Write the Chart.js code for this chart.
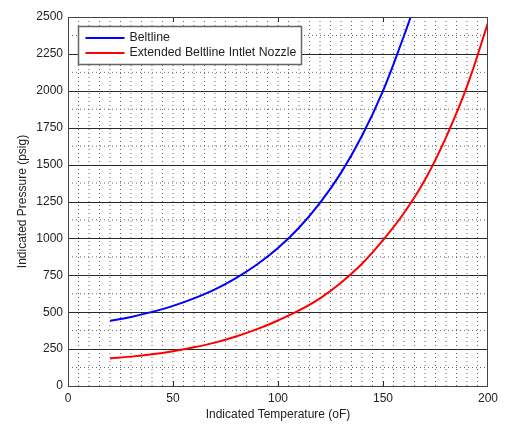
<!DOCTYPE html>
<html>
<head>
<meta charset="utf-8">
<script src="https://cdn.jsdelivr.net/npm/chart.js@4/dist/chart.umd.min.js"></script>
<style>
    html, body { margin: 0; padding: 0; background: #fff; }
    #wrap { width: 509px; height: 424px; }
</style>
</head>
<body>
<div id="wrap"><canvas id="pt-chart" width="509" height="424"></canvas></div>
<script>
// P-T limit curves, temperature (oF) vs pressure (psig)
const beltlineTemp = [20, 30, 40, 50, 60, 70, 80, 90, 100, 110, 120, 130, 140, 150, 160, 163.2];
const beltlinePressure = [442, 468, 502, 543, 594, 655, 731, 823, 935, 1072, 1240, 1444, 1695, 2000, 2373, 2500];

const nozzleTemp = [20, 30, 40, 50, 60, 70, 80, 90, 100, 110, 120, 130, 140, 150, 160, 170, 180, 190, 200];
const nozzlePressure = [187, 199, 215, 236, 262, 294, 335, 385, 444, 512, 594, 700, 828, 988, 1172, 1397, 1685, 2030, 2460];

const seriesLabels = ["Beltline", "Extended Beltline Intlet Nozzle"];
const seriesColors = ["#0000ff", "#ff0000"];

const xTicks = [0, 50, 100, 150, 200];
const yTicks = [0, 250, 500, 750, 1000, 1250, 1500, 1750, 2000, 2250, 2500];

const fontFamily = "'Liberation Sans', Arial, sans-serif";
const textColor = "#222";

function toPoints(xs, ys) {
    return xs.map((x, i) => ({ x: x, y: ys[i] }));
}

// grid: dotted every 5 oF, solid every 250 psig with dotted halves
const gridPlugin = {
    id: "matlabGrid",
    beforeDatasetsDraw(chart) {
        const ctx = chart.ctx;
        const area = chart.chartArea;
        const xs = chart.scales.x;
        const ys = chart.scales.y;
        ctx.save();
        ctx.lineWidth = 1;

        ctx.setLineDash([1, 3]);
        ctx.strokeStyle = "#666";
        for (let t = 5; t < 200; t += 5) {
            const px = xs.getPixelForValue(t);
            ctx.beginPath();
            ctx.moveTo(px, area.top);
            ctx.lineTo(px, area.bottom);
            ctx.stroke();
        }
        for (let p = 125; p < 2500; p += 250) {
            const py = ys.getPixelForValue(p);
            ctx.beginPath();
            ctx.moveTo(area.left, py);
            ctx.lineTo(area.right, py);
            ctx.stroke();
        }

        ctx.setLineDash([]);
        ctx.strokeStyle = "#2a2a2a";
        yTicks.slice(1, -1).forEach(p => {
            const py = Math.round(ys.getPixelForValue(p)) + 0.5;
            ctx.beginPath();
            ctx.moveTo(area.left, py);
            ctx.lineTo(area.right, py);
            ctx.stroke();
        });

        // inward tick marks
        xTicks.slice(1, -1).forEach(t => {
            const px = Math.round(xs.getPixelForValue(t)) + 0.5;
            ctx.beginPath();
            ctx.moveTo(px, area.top);
            ctx.lineTo(px, area.top + 5);
            ctx.moveTo(px, area.bottom);
            ctx.lineTo(px, area.bottom - 5);
            ctx.stroke();
        });
        ctx.restore();
    },
    afterDatasetsDraw(chart) {
        const ctx = chart.ctx;
        const area = chart.chartArea;
        ctx.save();
        ctx.lineWidth = 1;
        ctx.strokeStyle = "#444";
        ctx.strokeRect(Math.round(area.left) + 0.5, Math.round(area.top) + 0.5,
            Math.round(area.right - area.left) - 1, Math.round(area.bottom - area.top));

        // legend box
        const lx = Math.round(area.left) + 10.5;
        const ly = Math.round(area.top) + 9.5;
        ctx.fillStyle = "#fff";
        ctx.fillRect(lx, ly, 223, 38);
        ctx.strokeStyle = "#666";
        ctx.lineWidth = 1.5;
        ctx.strokeRect(lx, ly, 223, 38);

        ctx.font = "12.3px " + fontFamily;
        ctx.textBaseline = "middle";
        ctx.textAlign = "left";
        chart.data.datasets.forEach((ds, i) => {
            const rowY = ly + 11.5 + i * 15;
            ctx.strokeStyle = ds.borderColor;
            ctx.lineWidth = 2;
            ctx.beginPath();
            ctx.moveTo(lx + 7, rowY);
            ctx.lineTo(lx + 46, rowY);
            ctx.stroke();
            ctx.fillStyle = textColor;
            ctx.fillText(ds.label, lx + 51, rowY);
        });
        ctx.restore();
    }
};

const datasets = [
    toPoints(beltlineTemp, beltlinePressure),
    toPoints(nozzleTemp, nozzlePressure)
].map((pts, i) => ({
    label: seriesLabels[i],
    data: pts,
    borderColor: seriesColors[i],
    borderWidth: 2,
    pointRadius: 0,
    fill: false,
    tension: 0.4
}));

new Chart(document.getElementById("pt-chart"), {
    type: "line",
    data: { datasets: datasets },
    options: {
        responsive: false,
        animation: false,
        devicePixelRatio: 1,
        layout: { padding: { left: 0, top: 17, right: 21, bottom: 0 } },
        plugins: {
            legend: { display: false },
            tooltip: { enabled: false }
        },
        scales: {
            x: {
                type: "linear",
                min: 0,
                max: 200,
                afterFit(scale) { scale.height = 38; },
                afterBuildTicks(scale) { scale.ticks = xTicks.map(v => ({ value: v })); },
                grid: { display: false, drawTicks: false },
                border: { display: false },
                ticks: {
                    padding: 5,
                    color: textColor,
                    font: { family: fontFamily, size: 12 },
                    callback: v => String(v)
                },
                title: {
                    display: true,
                    text: "Indicated Temperature (oF)",
                    color: textColor,
                    padding: { top: 0, bottom: 2 },
                    font: { family: fontFamily, size: 12 }
                }
            },
            y: {
                type: "linear",
                min: 0,
                max: 2500,
                afterFit(scale) { scale.width = 68; },
                afterBuildTicks(scale) { scale.ticks = yTicks.map(v => ({ value: v })); },
                grid: { display: false, drawTicks: false },
                border: { display: false },
                ticks: {
                    padding: 5,
                    color: textColor,
                    font: { family: fontFamily, size: 12 },
                    callback: v => String(v)
                },
                title: {
                    display: true,
                    text: "Indicated Pressure (psig)",
                    color: textColor,
                    padding: { top: 15, bottom: 0 },
                    font: { family: fontFamily, size: 12 }
                }
            }
        }
    },
    plugins: [gridPlugin]
});
</script>
</body>
</html>
